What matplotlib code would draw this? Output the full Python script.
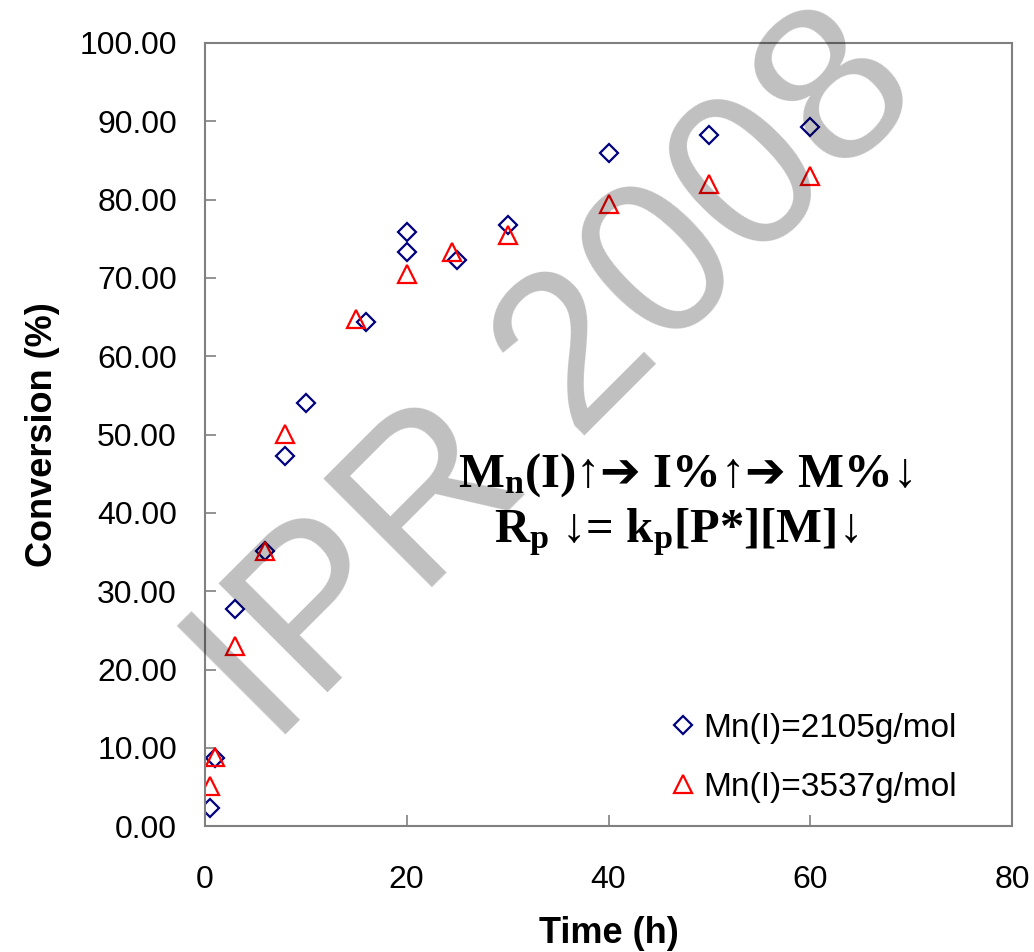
import matplotlib
matplotlib.use("Agg")
import matplotlib.pyplot as plt

plt.rcParams['font.family'] = ['Liberation Sans', 'DejaVu Sans']
plt.rcParams['mathtext.fontset'] = 'custom'
plt.rcParams['mathtext.rm'] = 'Liberation Serif:bold'
plt.rcParams['mathtext.bf'] = 'Liberation Serif:bold'
plt.rcParams['mathtext.it'] = 'Liberation Serif:bold'
plt.rcParams['mathtext.sf'] = 'DejaVu Sans:bold'

# Mn(I)=2105 g/mol
time_2105 = [0.5, 1, 3, 6, 8, 10, 16, 20, 20, 25, 30, 40, 50, 60]
conv_2105 = [2.3, 8.7, 27.7, 35.2, 47.3, 54.0, 64.4, 75.9, 73.3, 72.3, 76.8, 86.0, 88.2, 89.2]

# Mn(I)=3537 g/mol
time_3537 = [0.5, 1, 3, 6, 8, 15, 20, 24.5, 30, 40, 50, 60]
conv_3537 = [5.1, 8.9, 23.0, 35.2, 50.1, 64.7, 70.5, 73.3, 75.5, 79.4, 82.0, 83.0]

series_labels = ['Mn(I)=2105g/mol', 'Mn(I)=3537g/mol']
x_ticks = [0, 20, 40, 60, 80]
y_ticks = [0, 10, 20, 30, 40, 50, 60, 70, 80, 90, 100]

fig = plt.figure(figsize=(10.34, 9.52), dpi=100)
ax = fig.add_axes([0.198, 0.132, 0.781, 0.823])

ax.plot(time_2105, conv_2105, linestyle='none', marker='D', markersize=9,
        markerfacecolor='none', markeredgecolor='#000080', markeredgewidth=1.6,
        label=series_labels[0])
ax.plot(time_3537, conv_3537, linestyle='none', marker='^', markersize=13,
        markerfacecolor='none', markeredgecolor='#ff0000', markeredgewidth=1.6,
        label=series_labels[1])

ax.set_xlim(0, 80)
ax.set_ylim(0, 100)
ax.set_xticks(x_ticks)
ax.set_xticklabels([str(t) for t in x_ticks])
ax.set_yticks(y_ticks)
ax.set_yticklabels(['%.2f' % t for t in y_ticks])

for s in ax.spines.values():
    s.set_color('#808080')
    s.set_linewidth(1.5)
ax.tick_params(axis='both', direction='in', length=8, width=1.2, color='#808080',
               labelsize=23, top=False, right=False)
ax.tick_params(axis='y', pad=20)
ax.tick_params(axis='x', pad=28)

ax.set_xlabel('Time (h)', fontsize=26, fontweight='bold', labelpad=15)
ax.set_ylabel('Conversion (%)', fontsize=26, fontweight='bold', labelpad=14)

leg = ax.legend(loc='lower right', bbox_to_anchor=(0.96, 0.0), frameon=False,
                fontsize=24, handletextpad=0.1, handlelength=1.0,
                labelspacing=0.85, borderpad=0.2)

ax.text(0.595, 0.433, r'$\mathbf{M_n}$(I)↑$\mathsf{➔}$ I%↑$\mathsf{➔}$ M%↓',
        transform=ax.transAxes, fontsize=35, fontweight='bold',
        ha='center', va='baseline', family='Liberation Serif')
ax.text(0.583, 0.363, r'$\mathbf{R_p}$ ↓= $\mathbf{k_p}$[P*][M]↓',
        transform=ax.transAxes, fontsize=35, fontweight='bold',
        ha='center', va='baseline', family='Liberation Serif')

# watermark
fig.text(0.540, 0.600, 'IPR 2008', fontsize=160, color='black', alpha=0.25,
         rotation=45, ha='center', va='center', family='Liberation Sans')

fig.savefig('out.png', dpi=100)
